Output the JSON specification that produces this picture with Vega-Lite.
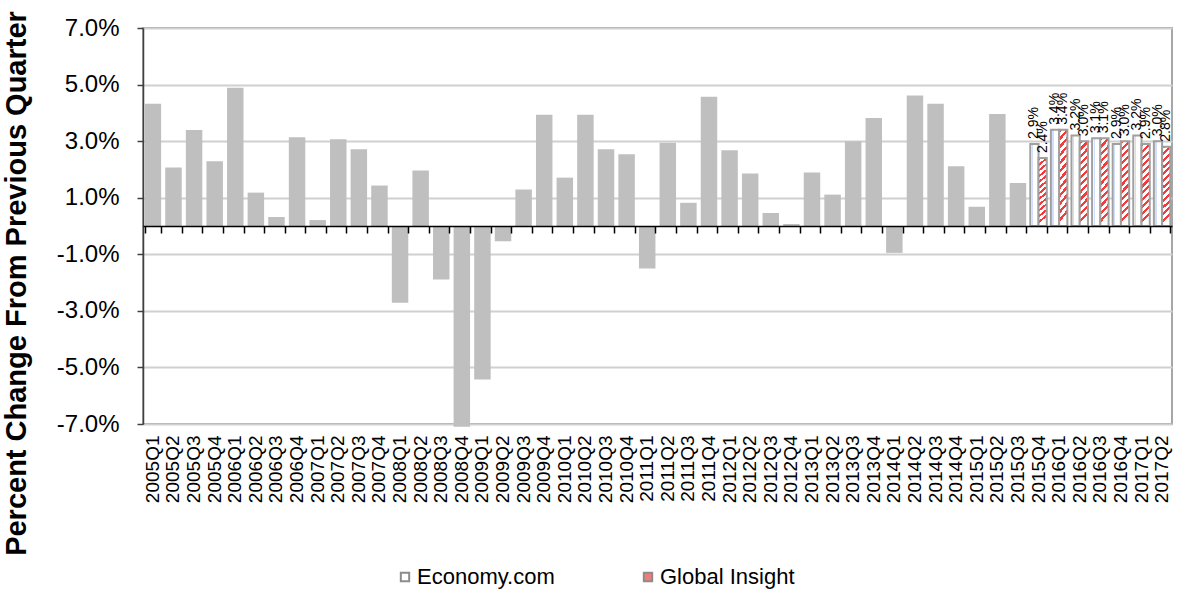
{
  "$schema": "https://vega.github.io/schema/vega-lite/v6.json",
  "autosize": "none",
  "width": 1029,
  "height": 396,
  "padding": {"left": 143, "top": 28, "right": 9, "bottom": 165},
  "background": "#ffffff",
  "config": {
    "font": "Liberation Sans, Arial, sans-serif",
    "view": {"stroke": "#a6a6a6", "strokeWidth": 2},
    "axis": {"labelColor": "#000000", "titleColor": "#000000"}
  },
  "datasets": {
    "gdp": [
      {"quarter": "2005Q1", "series": "Actual", "value": 0.0432},
      {"quarter": "2005Q2", "series": "Actual", "value": 0.0207},
      {"quarter": "2005Q3", "series": "Actual", "value": 0.0339},
      {"quarter": "2005Q4", "series": "Actual", "value": 0.0229},
      {"quarter": "2006Q1", "series": "Actual", "value": 0.0489},
      {"quarter": "2006Q2", "series": "Actual", "value": 0.0118},
      {"quarter": "2006Q3", "series": "Actual", "value": 0.0032},
      {"quarter": "2006Q4", "series": "Actual", "value": 0.0314},
      {"quarter": "2007Q1", "series": "Actual", "value": 0.0021},
      {"quarter": "2007Q2", "series": "Actual", "value": 0.0307},
      {"quarter": "2007Q3", "series": "Actual", "value": 0.0271},
      {"quarter": "2007Q4", "series": "Actual", "value": 0.0143},
      {"quarter": "2008Q1", "series": "Actual", "value": -0.0271},
      {"quarter": "2008Q2", "series": "Actual", "value": 0.0196},
      {"quarter": "2008Q3", "series": "Actual", "value": -0.0189},
      {"quarter": "2008Q4", "series": "Actual", "value": -0.071},
      {"quarter": "2009Q1", "series": "Actual", "value": -0.0543},
      {"quarter": "2009Q2", "series": "Actual", "value": -0.0054},
      {"quarter": "2009Q3", "series": "Actual", "value": 0.0129},
      {"quarter": "2009Q4", "series": "Actual", "value": 0.0393},
      {"quarter": "2010Q1", "series": "Actual", "value": 0.0171},
      {"quarter": "2010Q2", "series": "Actual", "value": 0.0393},
      {"quarter": "2010Q3", "series": "Actual", "value": 0.0271},
      {"quarter": "2010Q4", "series": "Actual", "value": 0.0254},
      {"quarter": "2011Q1", "series": "Actual", "value": -0.015},
      {"quarter": "2011Q2", "series": "Actual", "value": 0.0294},
      {"quarter": "2011Q3", "series": "Actual", "value": 0.0082},
      {"quarter": "2011Q4", "series": "Actual", "value": 0.0457},
      {"quarter": "2012Q1", "series": "Actual", "value": 0.0268},
      {"quarter": "2012Q2", "series": "Actual", "value": 0.0186},
      {"quarter": "2012Q3", "series": "Actual", "value": 0.0046},
      {"quarter": "2012Q4", "series": "Actual", "value": 0.0007},
      {"quarter": "2013Q1", "series": "Actual", "value": 0.0189},
      {"quarter": "2013Q2", "series": "Actual", "value": 0.0111},
      {"quarter": "2013Q3", "series": "Actual", "value": 0.030},
      {"quarter": "2013Q4", "series": "Actual", "value": 0.0382},
      {"quarter": "2014Q1", "series": "Actual", "value": -0.0095},
      {"quarter": "2014Q2", "series": "Actual", "value": 0.0461},
      {"quarter": "2014Q3", "series": "Actual", "value": 0.0432},
      {"quarter": "2014Q4", "series": "Actual", "value": 0.0211},
      {"quarter": "2015Q1", "series": "Actual", "value": 0.0068},
      {"quarter": "2015Q2", "series": "Actual", "value": 0.0396},
      {"quarter": "2015Q3", "series": "Actual", "value": 0.0152},
      {"quarter": "2015Q4", "series": "Economy.com", "value": 0.029},
      {"quarter": "2015Q4", "series": "Global Insight", "value": 0.024},
      {"quarter": "2016Q1", "series": "Economy.com", "value": 0.034},
      {"quarter": "2016Q1", "series": "Global Insight", "value": 0.034},
      {"quarter": "2016Q2", "series": "Economy.com", "value": 0.032},
      {"quarter": "2016Q2", "series": "Global Insight", "value": 0.030},
      {"quarter": "2016Q3", "series": "Economy.com", "value": 0.031},
      {"quarter": "2016Q3", "series": "Global Insight", "value": 0.031},
      {"quarter": "2016Q4", "series": "Economy.com", "value": 0.029},
      {"quarter": "2016Q4", "series": "Global Insight", "value": 0.030},
      {"quarter": "2017Q1", "series": "Economy.com", "value": 0.032},
      {"quarter": "2017Q1", "series": "Global Insight", "value": 0.029},
      {"quarter": "2017Q2", "series": "Economy.com", "value": 0.030},
      {"quarter": "2017Q2", "series": "Global Insight", "value": 0.028}
    ]
  },
  "data": {"name": "gdp"},
  "resolve": {"axis": {"x": "independent"}},
  "layer": [
    {
      "transform": [{"filter": "datum.series === 'Actual'"}],
      "mark": {"type": "bar", "color": "#bfbfbf", "clip": false},
      "encoding": {
        "x": {
          "field": "quarter", "type": "nominal",
          "scale": {"paddingInner": 0.2, "paddingOuter": 0.08},
          "axis": {
            "orient": "bottom", "title": null, "domain": false, "ticks": false, "tickSize": 0,
            "grid": false, "labelAngle": -90, "labelFontSize": 19, "labelPadding": 11,
            "labelColor": "#000000"
          }
        },
        "y": {
          "field": "value", "type": "quantitative",
          "scale": {"domain": [-0.07, 0.07], "nice": false, "zero": false},
          "axis": {
            "values": [-0.07, -0.05, -0.03, -0.01, 0.01, 0.03, 0.05, 0.07],
            "format": ".1%",
            "labelExpr": "replace(datum.label, '\u2212', '-')",
            "labelFontSize": 24, "labelPadding": 18,
            "tickSize": 6, "tickColor": "#404040", "tickWidth": 1.5,
            "domainColor": "#404040", "domainWidth": 1.5,
            "gridColor": "#d0d0d0", "gridWidth": 2,
            "title": "Percent Change From Previous Quarter",
            "titleFontSize": 29, "titleFontWeight": "bold",
            "titleAngle": 270, "titleAlign": "center", "titleBaseline": "middle",
            "titleX": -127, "titleY": 255
          }
        }
      }
    },
    {
      "transform": [{"filter": "datum.series === 'Economy.com'"}],
      "mark": {
        "type": "bar", "strokeWidth": 2, "stroke": "#a0a0a0",
        "fill": {
          "gradient": "linear", "x1": 0, "y1": 0, "x2": 1, "y2": 0,
          "stops": [
            {"offset": 0, "color": "#ffffff"}, {"offset": 0.18, "color": "#ffffff"},
            {"offset": 0.18, "color": "#d3def8"}, {"offset": 0.32, "color": "#d3def8"},
            {"offset": 0.32, "color": "#ffffff"}, {"offset": 1, "color": "#ffffff"}
          ]
        }
      },
      "encoding": {
        "x": {
          "field": "quarter", "type": "nominal",
          "axis": {
            "orient": "bottom", "offset": -198, "title": null, "labels": false,
            "domain": true, "domainColor": "#000000", "domainWidth": 1.5,
            "ticks": true, "tickColor": "#000000", "tickSize": 7, "tickWidth": 1.5,
            "tickBand": "extent", "grid": false, "zindex": 1
          }
        },
        "xOffset": {"field": "series", "type": "nominal", "scale": {"domain": ["Economy.com", "Global Insight"], "paddingInner": 0, "paddingOuter": 0}},
        "y": {"field": "value", "type": "quantitative"}
      }
    },
    {
      "transform": [{"filter": "datum.series === 'Global Insight'"}],
      "mark": {
        "type": "bar", "strokeWidth": 2, "stroke": "#a0a0a0",
        "fill": {
          "gradient": "linear", "x1": 0, "y1": 0, "x2": 0.1, "y2": 1,
          "stops": [
            {"offset": 0, "color": "#f03c3c"}, {"offset": 0.0375, "color": "#f03c3c"},
            {"offset": 0.0375, "color": "#ffffff"}, {"offset": 0.0833, "color": "#ffffff"},
            {"offset": 0.0833, "color": "#f03c3c"}, {"offset": 0.1208, "color": "#f03c3c"},
            {"offset": 0.1208, "color": "#ffffff"}, {"offset": 0.1667, "color": "#ffffff"},
            {"offset": 0.1667, "color": "#f03c3c"}, {"offset": 0.2042, "color": "#f03c3c"},
            {"offset": 0.2042, "color": "#ffffff"}, {"offset": 0.25, "color": "#ffffff"},
            {"offset": 0.25, "color": "#f03c3c"}, {"offset": 0.2875, "color": "#f03c3c"},
            {"offset": 0.2875, "color": "#ffffff"}, {"offset": 0.3333, "color": "#ffffff"},
            {"offset": 0.3333, "color": "#f03c3c"}, {"offset": 0.3708, "color": "#f03c3c"},
            {"offset": 0.3708, "color": "#ffffff"}, {"offset": 0.4167, "color": "#ffffff"},
            {"offset": 0.4167, "color": "#f03c3c"}, {"offset": 0.4542, "color": "#f03c3c"},
            {"offset": 0.4542, "color": "#ffffff"}, {"offset": 0.5, "color": "#ffffff"},
            {"offset": 0.5, "color": "#f03c3c"}, {"offset": 0.5375, "color": "#f03c3c"},
            {"offset": 0.5375, "color": "#ffffff"}, {"offset": 0.5833, "color": "#ffffff"},
            {"offset": 0.5833, "color": "#f03c3c"}, {"offset": 0.6208, "color": "#f03c3c"},
            {"offset": 0.6208, "color": "#ffffff"}, {"offset": 0.6667, "color": "#ffffff"},
            {"offset": 0.6667, "color": "#f03c3c"}, {"offset": 0.7042, "color": "#f03c3c"},
            {"offset": 0.7042, "color": "#ffffff"}, {"offset": 0.75, "color": "#ffffff"},
            {"offset": 0.75, "color": "#f03c3c"}, {"offset": 0.7875, "color": "#f03c3c"},
            {"offset": 0.7875, "color": "#ffffff"}, {"offset": 0.8333, "color": "#ffffff"},
            {"offset": 0.8333, "color": "#f03c3c"}, {"offset": 0.8708, "color": "#f03c3c"},
            {"offset": 0.8708, "color": "#ffffff"}, {"offset": 0.9167, "color": "#ffffff"},
            {"offset": 0.9167, "color": "#f03c3c"}, {"offset": 0.9542, "color": "#f03c3c"},
            {"offset": 0.9542, "color": "#ffffff"}, {"offset": 1, "color": "#ffffff"}
          ]
        }
      },
      "encoding": {
        "x": {"field": "quarter", "type": "nominal", "axis": null},
        "xOffset": {"field": "series", "type": "nominal"},
        "y": {"field": "value", "type": "quantitative"}
      }
    },
    {
      "transform": [{"filter": "datum.series !== 'Actual'"}],
      "mark": {"type": "text", "angle": 270, "align": "left", "baseline": "middle", "dx": 5, "fontSize": 14, "color": "#000000"},
      "encoding": {
        "x": {"field": "quarter", "type": "nominal", "axis": null},
        "xOffset": {"field": "series", "type": "nominal"},
        "y": {"field": "value", "type": "quantitative"},
        "text": {"field": "value", "type": "quantitative", "format": ".1%"}
      }
    },
    {
      "transform": [{"filter": "datum.series !== 'Actual'"}],
      "mark": {"type": "square", "filled": true, "opacity": 0, "size": 1},
      "encoding": {
        "x": {"field": "quarter", "type": "nominal", "axis": null},
        "y": {"field": "value", "type": "quantitative"},
        "fill": {
          "field": "series", "type": "nominal",
          "scale": {"domain": ["Economy.com", "Global Insight"], "range": ["#ffffff", "#f37a7a"]},
          "legend": {
            "title": null, "orient": "none", "direction": "horizontal",
            "legendX": 251, "legendY": 538, "padding": 0,
            "symbolType": "square", "symbolSize": 70, "symbolOpacity": 1,
            "symbolStrokeColor": "#8c8c8c", "symbolStrokeWidth": 2,
            "labelFontSize": 22, "labelColor": "#000000", "labelOffset": 1,
            "columnPadding": 82, "labelLimit": 300
          }
        }
      }
    }
  ]
}
